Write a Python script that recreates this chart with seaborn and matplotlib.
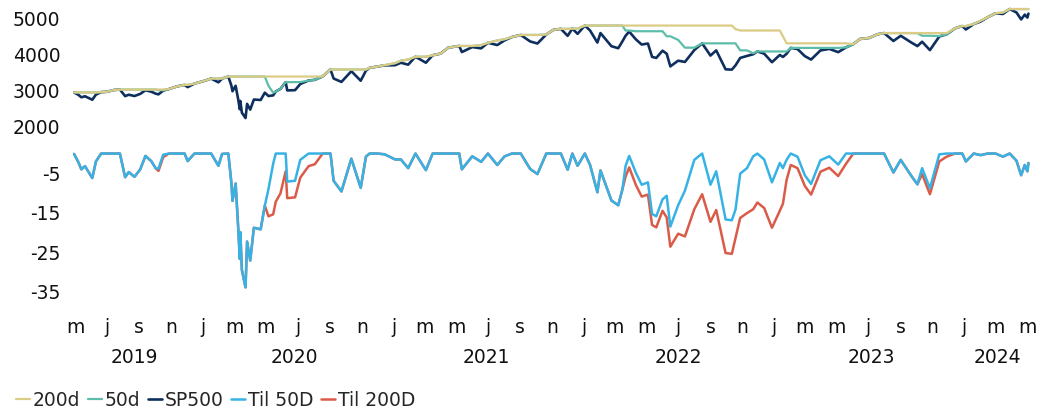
import matplotlib
matplotlib.use('Agg')
import pandas as pd
import seaborn as sns
from matplotlib import pyplot as plt
from matplotlib.transforms import blended_transform_factory

# Data (semi-monthly-ish samples + turning points)
dates = [
    '2019-04-29', '2019-05-07', '2019-05-13', '2019-05-20', '2019-06-03', '2019-06-10', '2019-06-20',
    '2019-07-01', '2019-07-15', '2019-07-26', '2019-08-05', '2019-08-12', '2019-08-23', '2019-09-03',
    '2019-09-13', '2019-09-24', '2019-10-03', '2019-10-08', '2019-10-17', '2019-10-28', '2019-11-08',
    '2019-11-15', '2019-11-27', '2019-12-03', '2019-12-16', '2020-01-02', '2020-01-17', '2020-01-31',
    '2020-02-07', '2020-02-19', '2020-02-25', '2020-02-27', '2020-03-04', '2020-03-09', '2020-03-12',
    '2020-03-13', '2020-03-16', '2020-03-23', '2020-03-26', '2020-04-01', '2020-04-08', '2020-04-21',
    '2020-04-29', '2020-05-06', '2020-05-15', '2020-05-20', '2020-05-29', '2020-06-08', '2020-06-11',
    '2020-06-26', '2020-07-06', '2020-07-22', '2020-08-03', '2020-08-18', '2020-09-02', '2020-09-08',
    '2020-09-23', '2020-10-12', '2020-10-30', '2020-11-09', '2020-11-16', '2020-12-01', '2020-12-15',
    '2021-01-04', '2021-01-15', '2021-01-29', '2021-02-12', '2021-03-04', '2021-03-17', '2021-04-01',
    '2021-04-16', '2021-05-07', '2021-05-12', '2021-06-01', '2021-06-18', '2021-07-01', '2021-07-19',
    '2021-08-02', '2021-08-16', '2021-09-02', '2021-09-20', '2021-10-04', '2021-10-21', '2021-11-04',
    '2021-11-18', '2021-12-01', '2021-12-10', '2021-12-20', '2022-01-03', '2022-01-13', '2022-01-27',
    '2022-02-02', '2022-02-23', '2022-03-08', '2022-03-16', '2022-03-22', '2022-03-29', '2022-04-11',
    '2022-04-22', '2022-05-04', '2022-05-12', '2022-05-20', '2022-06-01', '2022-06-09', '2022-06-16',
    '2022-07-01', '2022-07-14', '2022-08-01', '2022-08-16', '2022-09-01', '2022-09-12', '2022-09-30',
    '2022-10-12', '2022-10-19', '2022-10-28', '2022-11-10', '2022-11-22', '2022-11-30', '2022-12-13',
    '2022-12-28', '2023-01-12', '2023-01-18', '2023-01-25', '2023-02-02', '2023-02-15', '2023-03-01',
    '2023-03-13', '2023-03-31', '2023-04-17', '2023-05-04', '2023-05-19', '2023-06-02', '2023-06-15',
    '2023-07-03', '2023-07-18', '2023-07-31', '2023-08-18', '2023-09-01', '2023-09-21', '2023-10-03',
    '2023-10-12', '2023-10-27', '2023-11-14', '2023-11-28', '2023-12-14', '2023-12-28', '2024-01-04',
    '2024-01-19', '2024-02-01', '2024-02-15', '2024-03-01', '2024-03-15', '2024-03-28', '2024-04-10',
    '2024-04-19', '2024-04-26', '2024-05-01', '2024-05-03',
]

sp500 = [
    2943, 2884, 2812, 2840, 2744, 2886, 2954,
    2964, 3014, 3026, 2844, 2883, 2847, 2906,
    3007, 2967, 2910, 2893, 2998, 3039, 3093,
    3120, 3154, 3093, 3191, 3258, 3330, 3226,
    3328, 3386, 3128, 2979, 3130, 2747, 2481,
    2711, 2386, 2237, 2630, 2470, 2750, 2737,
    2939, 2848, 2864, 2972, 3044, 3232, 3002,
    3009, 3180, 3276, 3295, 3390, 3580, 3332,
    3237, 3534, 3270, 3550, 3627, 3662, 3695,
    3700, 3768, 3714, 3934, 3768, 3975, 4020,
    4185, 4232, 4063, 4202, 4166, 4320, 4258,
    4387, 4479, 4537, 4358, 4300, 4549, 4680,
    4705, 4513, 4712, 4568, 4797, 4660, 4326,
    4589, 4225, 4170, 4358, 4512, 4631, 4413,
    4272, 4300, 3930, 3901, 4101, 4018, 3667,
    3825, 3790, 4119, 4305, 3966, 4110, 3586,
    3577, 3695, 3901, 3956, 4003, 4080, 4019,
    3783, 3983, 3929, 4016, 4179, 4147, 3951,
    3856, 4109, 4151, 4061, 4192, 4282, 4426,
    4455, 4555, 4589, 4370, 4515, 4330, 4229,
    4349, 4117, 4495, 4554, 4719, 4783, 4688,
    4840, 4906, 5029, 5137, 5117, 5254, 5160,
    4967, 5100, 5018, 5128,
]

max_200d = [
    2946, 2946, 2946, 2946, 2946, 2946, 2954,
    2964, 3014, 3026, 3026, 3026, 3026, 3026,
    3026, 3026, 3026, 3026, 3026, 3039, 3093,
    3120, 3154, 3154, 3191, 3258, 3330, 3330,
    3330, 3386, 3386, 3386, 3386, 3386, 3386,
    3386, 3386, 3386, 3386, 3386, 3386, 3386,
    3386, 3386, 3386, 3386, 3386, 3386, 3386,
    3386, 3386, 3386, 3386, 3390, 3580, 3580,
    3580, 3580, 3580, 3580, 3627, 3662, 3702,
    3756, 3825, 3855, 3934, 3934, 3975, 4020,
    4185, 4232, 4232, 4232, 4255, 4320, 4384,
    4419, 4479, 4537, 4537, 4537, 4549, 4680,
    4705, 4705, 4712, 4712, 4797, 4797, 4797,
    4797, 4797, 4797, 4797, 4797, 4797, 4797,
    4797, 4797, 4797, 4797, 4797, 4797, 4797,
    4797, 4797, 4797, 4797, 4797, 4797, 4797,
    4797, 4700, 4660, 4660, 4660, 4660, 4660,
    4660, 4660, 4500, 4305, 4305, 4305, 4305,
    4305, 4305, 4305, 4305, 4305, 4282, 4426,
    4455, 4555, 4589, 4589, 4589, 4589, 4589,
    4589, 4589, 4589, 4589, 4719, 4783, 4783,
    4840, 4928, 5029, 5137, 5157, 5254, 5254,
    5254, 5254, 5254, 5254,
]

max_50d = [
    2946, 2946, 2946, 2946, 2946, 2946, 2954,
    2964, 3014, 3026, 3026, 3026, 3026, 3026,
    3026, 3026, 3026, 3007, 3007, 3039, 3093,
    3120, 3154, 3154, 3191, 3258, 3330, 3330,
    3330, 3386, 3386, 3386, 3386, 3386, 3386,
    3386, 3386, 3386, 3386, 3386, 3386, 3386,
    3386, 3130, 2940, 2972, 3044, 3232, 3232,
    3232, 3232, 3276, 3295, 3390, 3580, 3580,
    3580, 3580, 3580, 3580, 3627, 3662, 3702,
    3756, 3825, 3855, 3934, 3934, 3975, 4020,
    4185, 4232, 4232, 4232, 4255, 4320, 4384,
    4419, 4479, 4537, 4537, 4537, 4549, 4680,
    4705, 4705, 4712, 4712, 4797, 4797, 4797,
    4797, 4797, 4797, 4797, 4660, 4660, 4640,
    4640, 4640, 4640, 4640, 4640, 4500, 4500,
    4400, 4185, 4185, 4305, 4305, 4305, 4305,
    4305, 4305, 4110, 4110, 4030, 4080, 4080,
    4080, 4080, 4080, 4080, 4179, 4179, 4179,
    4179, 4179, 4179, 4179, 4192, 4282, 4426,
    4455, 4555, 4589, 4589, 4589, 4589, 4589,
    4515, 4515, 4505, 4554, 4719, 4783, 4783,
    4840, 4928, 5029, 5137, 5157, 5254, 5254,
    5254, 5254, 5254, 5254,
]

til_50d = [
    -0.1, -2.1, -4.0, -3.2, -6.2, -2.0, 0.0,
    0.0, 0.0, 0.0, -6.0, -4.7, -5.9, -4.0,
    -0.6, -1.9, -3.8, -3.8, -0.3, 0.0, 0.0,
    0.0, 0.0, -1.9, 0.0, 0.0, 0.0, -3.1,
    -0.1, 0.0, -7.6, -12.0, -7.6, -18.9, -26.7,
    -19.9, -29.5, -33.9, -22.3, -27.1, -18.8, -19.2,
    -13.2, -9.0, -2.6, 0.0, 0.0, 0.0, -7.1,
    -6.9, -1.6, 0.0, 0.0, 0.0, 0.0, -6.9,
    -9.6, -1.3, -8.7, -0.8, 0.0, 0.0, -0.2,
    -1.5, -1.5, -3.7, 0.0, -4.2, 0.0, 0.0,
    0.0, 0.0, -4.0, -0.7, -2.1, 0.0, -2.9,
    -0.7, 0.0, 0.0, -3.9, -5.2, 0.0, 0.0,
    0.0, -4.1, 0.0, -3.1, 0.0, -2.9, -9.8,
    -4.3, -11.9, -13.1, -9.1, -3.2, -0.6, -4.9,
    -7.9, -7.3, -15.3, -15.9, -11.6, -10.7, -18.5,
    -13.1, -9.4, -1.6, 0.0, -7.9, -4.5, -16.7,
    -16.9, -14.2, -5.1, -3.7, -0.7, 0.0, -1.5,
    -7.3, -2.4, -3.7, -1.6, 0.0, -0.8, -5.5,
    -7.7, -1.7, -0.7, -2.8, 0.0, 0.0, 0.0,
    0.0, 0.0, 0.0, -4.8, -1.6, -5.6, -7.8,
    -3.7, -8.8, -0.2, 0.0, 0.0, 0.0, -2.0,
    0.0, -0.4, 0.0, 0.0, -0.8, 0.0, -1.8,
    -5.5, -2.9, -4.5, -2.4,
]

til_200d = [
    -0.1, -2.1, -4.0, -3.2, -6.2, -2.0, 0.0,
    0.0, 0.0, 0.0, -6.0, -4.7, -5.9, -4.0,
    -0.6, -1.9, -3.8, -4.4, -0.9, 0.0, 0.0,
    0.0, 0.0, -1.9, 0.0, 0.0, 0.0, -3.1,
    -0.1, 0.0, -7.6, -12.0, -7.6, -18.9, -26.7,
    -19.9, -29.5, -33.9, -22.3, -27.1, -18.8, -19.2,
    -13.2, -15.9, -15.4, -12.2, -10.1, -4.5, -11.3,
    -11.1, -6.1, -3.2, -2.7, 0.0, 0.0, -6.9,
    -9.6, -1.3, -8.7, -0.8, 0.0, 0.0, -0.2,
    -1.5, -1.5, -3.7, 0.0, -4.2, 0.0, 0.0,
    0.0, 0.0, -4.0, -0.7, -2.1, 0.0, -2.9,
    -0.7, 0.0, 0.0, -3.9, -5.2, 0.0, 0.0,
    0.0, -4.1, 0.0, -3.1, 0.0, -2.9, -9.8,
    -4.3, -11.9, -13.1, -9.1, -5.9, -3.5, -8.0,
    -10.9, -10.4, -18.1, -18.7, -14.5, -16.2, -23.6,
    -20.3, -21.0, -14.1, -10.3, -17.3, -14.3, -25.2,
    -25.4, -21.4, -16.3, -15.1, -14.1, -12.4, -13.8,
    -18.8, -14.5, -12.7, -6.7, -2.9, -3.7, -8.2,
    -10.4, -4.6, -3.6, -5.7, -2.6, 0.0, 0.0,
    0.0, 0.0, 0.0, -4.8, -1.6, -5.6, -7.8,
    -5.2, -10.3, -2.0, -0.8, 0.0, 0.0, -2.0,
    0.0, -0.4, 0.0, 0.0, -0.8, 0.0, -1.8,
    -5.5, -2.9, -4.5, -2.4,
]

month_ticks = pd.date_range('2019-05-01', '2024-05-01', freq='2MS')
month_letters = ('m j s n j m m j s n j m m j s n j m m j s n '
                 'j m m j s n j m m').split()
years = ['2019', '2020', '2021', '2022', '2023', '2024']

df = pd.DataFrame({
    'date': pd.to_datetime(dates),
    'sp500': sp500,
    'max_200d': max_200d,
    'max_50d': max_50d,
    'til_50d': til_50d,
    'til_200d': til_200d,
})

c_200 = '#DCCB84'
c_50 = '#5CBDA8'
c_sp = '#0E2F5E'
c_t50 = '#37B2E5'
c_t200 = '#D95B48'

sns.set_style('white')
plt.rcParams['font.family'] = ['DejaVu Sans']
plt.rcParams['axes.unicode_minus'] = False

W, H = 1045, 413
fig = plt.figure(figsize=(W / 100, H / 100), dpi=100)
ax1 = fig.add_axes([73 / W, 1 - 135 / H, 957 / W, 130 / H])
ax2 = fig.add_axes([73 / W, 1 - 300 / H, 957 / W, 160 / H], sharex=ax1)

# top panel: index + rolling max lines
sns.lineplot(data=df, x='date', y='sp500', ax=ax1, color=c_sp, lw=1.9,
             errorbar=None, legend=False)
h_sp = ax1.get_lines()[-1]
sns.lineplot(data=df, x='date', y='max_50d', ax=ax1, color=c_50, lw=1.6,
             errorbar=None, legend=False)
h_50 = ax1.get_lines()[-1]
sns.lineplot(data=df, x='date', y='max_200d', ax=ax1, color=c_200, lw=1.6,
             errorbar=None, legend=False)
h_200 = ax1.get_lines()[-1]

# bottom panel: drawdowns
sns.lineplot(data=df, x='date', y='til_200d', ax=ax2, color=c_t200, lw=1.8,
             errorbar=None, legend=False)
h_t200 = ax2.get_lines()[-1]
sns.lineplot(data=df, x='date', y='til_50d', ax=ax2, color=c_t50, lw=1.8,
             errorbar=None, legend=False)
h_t50 = ax2.get_lines()[-1]

ax1.set_xlim(pd.Timestamp('2019-04-27'), pd.Timestamp('2024-05-06'))
ax1.set_ylim(1768, 5366)
ax2.set_ylim(-37.1, 3.43)
ax1.set_yticks([2000, 3000, 4000, 5000])
ax2.set_yticks([-5, -15, -25, -35])

ax2.set_xticks(month_ticks)
ax2.set_xticklabels(month_letters)

for ax in (ax1, ax2):
    ax.set_xlabel('')
    ax.set_ylabel('')
    for s in ax.spines.values():
        s.set_visible(False)
    ax.tick_params(axis='both', length=0, labelsize=13.5, colors='#111111')
    ax.tick_params(axis='y', pad=9)
ax1.tick_params(axis='x', labelbottom=False)
ax2.tick_params(axis='x', pad=13)

# year labels centred under each year's span
trans = blended_transform_factory(ax2.transData, ax2.transAxes)
for yr in years:
    sub = df.loc[df['date'].dt.year == int(yr), 'date']
    mid = sub.min() + (sub.max() - sub.min()) / 2
    ax2.text(mid, -0.36, yr, transform=trans, ha='center', va='center',
             fontsize=13.5, color='#111111')

handles = [h_200, h_50, h_sp, h_t50, h_t200]
labels = ['200d', '50d', 'SP500', 'Til 50D', 'Til 200D']
fig.legend(handles, labels, loc='center left', bbox_to_anchor=(16 / W, 1 - 400 / H),
           ncol=5, frameon=False, handlelength=0.75, handletextpad=0.15,
           columnspacing=0.4, fontsize=13.5, borderaxespad=0, borderpad=0)

fig.savefig('out.png', dpi=100)
